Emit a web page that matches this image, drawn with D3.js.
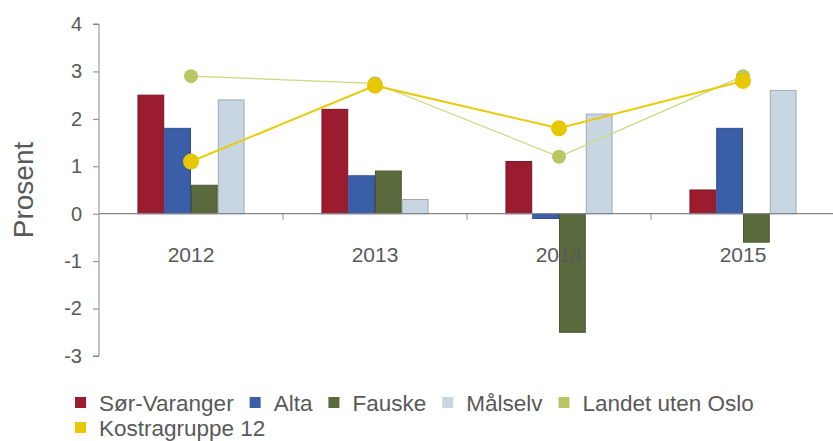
<!DOCTYPE html>
<html>
<head>
<meta charset="utf-8">
<script src="https://cdn.jsdelivr.net/npm/d3@7"></script>
<style>
  html, body { margin: 0; padding: 0; background: #fff; }
  svg { display: block; font-family: "Liberation Sans", Arial, sans-serif; }
</style>
</head>
<body>
<div id="chart"></div>
<script>
const years = ["2012", "2013", "2014", "2015"];
const barSeries = ["Sør-Varanger", "Alta", "Fauske", "Målselv"];
const sorVaranger = [2.5, 2.2, 1.1, 0.5];
const alta = [1.8, 0.8, -0.1, 1.8];
const fauske = [0.6, 0.9, -2.5, -0.6];
const malselv = [2.4, 0.3, 2.1, 2.6];
const lineSeries = ["Landet uten Oslo", "Kostragruppe 12"];
const landetUtenOslo = [2.9, 2.75, 1.2, 2.9];
const kostragruppe12 = [1.1, 2.7, 1.8, 2.8];
const yTicks = [-3, -2, -1, 0, 1, 2, 3, 4];

const barValues = [sorVaranger, alta, fauske, malselv];
const lineValues = [landetUtenOslo, kostragruppe12];

const colors = {
  "Sør-Varanger": "#9b1b2f",
  "Alta": "#3b5ea8",
  "Fauske": "#5a6a3c",
  "Målselv": "#c7d6e0",
  "Landet uten Oslo": "#b9c664",
  "Kostragruppe 12": "#e6c700"
};
const strokes = {
  "Sør-Varanger": "#7d1525",
  "Alta": "#2f4d8c",
  "Fauske": "#4a5830",
  "Målselv": "#9eacb6"
};

const W = 833, H = 441;
const svg = d3.select("#chart").append("svg")
  .attr("width", W).attr("height", H);

const x0 = d3.scaleBand().domain(years).range([99, 835])
  .paddingInner(0.418).paddingOuter(0.209);
const x1 = d3.scaleBand().domain(barSeries).range([0, x0.bandwidth()]);
const y = d3.scaleLinear().domain([-3, 4]).range([356, 24]);

const textColor = "#595959";
const axisColor = "#85858f";

// y axis
const yAxis = svg.append("g")
  .attr("transform", "translate(99,0)")
  .call(d3.axisLeft(y).tickValues(yTicks).tickSize(6).tickPadding(11)
    .tickFormat(d => String(d)));
yAxis.select(".domain").attr("stroke", axisColor).attr("d", `M-6,${y(4)}H0V${y(-3)}H-6`);
yAxis.selectAll(".tick line").attr("stroke", axisColor);
yAxis.selectAll(".tick text")
  .attr("fill", textColor)
  .style("font-size", "20px")
  .style("font-family", "Liberation Sans, Arial, sans-serif");

svg.append("text")
  .attr("transform", `translate(33,${190}) rotate(-90)`)
  .attr("text-anchor", "middle")
  .attr("fill", textColor)
  .style("font-size", "28px")
  .text("Prosent");

// bars
const groups = svg.append("g").selectAll("g")
  .data(years)
  .join("g")
  .attr("transform", d => `translate(${x0(d)},0)`);

groups.selectAll("rect")
  .data((d, i) => barSeries.map((s, j) => ({ s, v: barValues[j][i] })))
  .join("rect")
  .attr("x", d => x1(d.s) + 0.5)
  .attr("width", x1.bandwidth() - 1)
  .attr("y", d => y(Math.max(0, d.v)))
  .attr("height", d => Math.abs(y(d.v) - y(0)))
  .attr("fill", d => colors[d.s])
  .attr("stroke", d => strokes[d.s])
  .attr("stroke-width", 1);

// x axis line at zero
const step = x0.step();
svg.append("line")
  .attr("x1", 99).attr("x2", W)
  .attr("y1", y(0)).attr("y2", y(0))
  .attr("stroke", axisColor).attr("stroke-width", 1.2);

svg.append("g").selectAll("line")
  .data(years.slice(1))
  .join("line")
  .attr("x1", d => x0(d) - step * 0.209)
  .attr("x2", d => x0(d) - step * 0.209)
  .attr("y1", y(0)).attr("y2", y(0) + 6)
  .attr("stroke", axisColor);

// lines
const cx = d => x0(d) + x0.bandwidth() / 2;
const lineStyle = [
  { width: 1.2, r: 7, stroke: "#cdd77e" },
  { width: 2, r: 8, stroke: "#e8cb0a" }
];
lineSeries.forEach((name, k) => {
  const vals = lineValues[k];
  const pts = years.map((yr, i) => [cx(yr), y(vals[i])]);
  svg.append("path")
    .attr("d", d3.line()(pts))
    .attr("fill", "none")
    .attr("stroke", lineStyle[k].stroke)
    .attr("stroke-width", lineStyle[k].width);
  svg.append("g").selectAll("circle")
    .data(pts)
    .join("circle")
    .attr("cx", d => d[0]).attr("cy", d => d[1])
    .attr("r", lineStyle[k].r)
    .attr("fill", colors[name]);
});

// year labels
svg.append("g").selectAll("text")
  .data(years)
  .join("text")
  .attr("x", d => cx(d))
  .attr("y", y(0) + 48)
  .attr("text-anchor", "middle")
  .attr("fill", textColor)
  .style("font-size", "21px")
  .text(d => d);

// legend
const allSeries = barSeries.concat(lineSeries);
const legend = svg.append("g");
let lx = 75, ly = 403;
allSeries.forEach(name => {
  const t = legend.append("text")
    .attr("y", ly + 8)
    .attr("fill", textColor)
    .style("font-size", "22.5px")
    .text(name);
  const tw = t.node().getComputedTextLength();
  if (lx + 24 + tw > 800) {
    lx = 75;
    ly += 25;
    t.attr("y", ly + 8);
  }
  legend.append("rect")
    .attr("x", lx).attr("y", ly - 6)
    .attr("width", 11).attr("height", 11)
    .attr("fill", colors[name]);
  t.attr("x", lx + 24);
  lx += 24 + tw + 16;
});
</script>
</body>
</html>
